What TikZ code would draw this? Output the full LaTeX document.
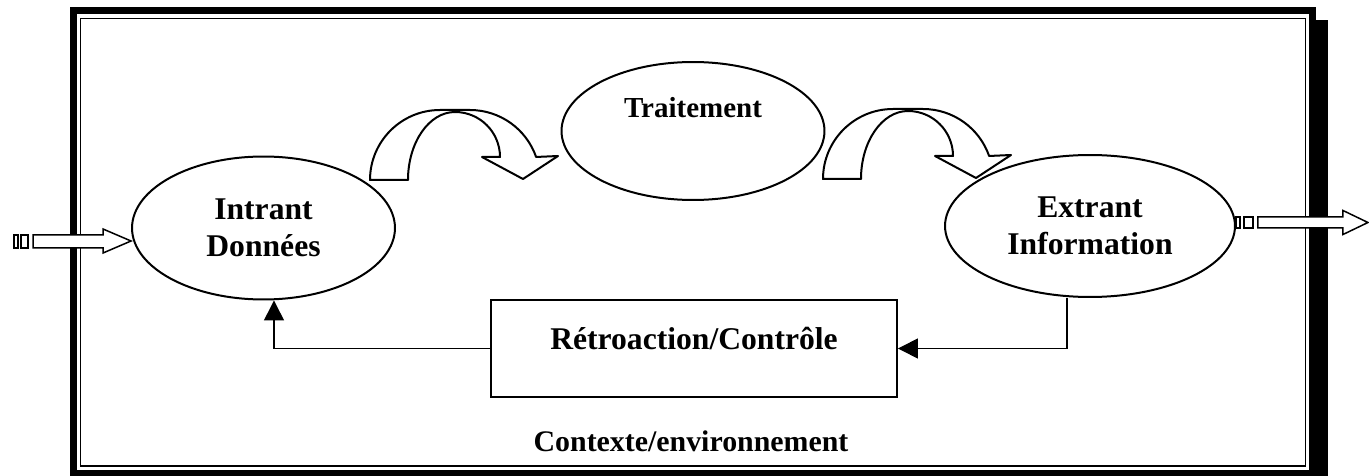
\documentclass[tikz,border=0pt]{standalone}
\usepackage{fontspec}
\setmainfont{Liberation Serif}
\usepackage{tikz}
\usetikzlibrary{arrows.meta, positioning, calc, shapes.geometric}
\tikzset{
  sysellipse/.style={
    ellipse, draw=black, line width=0.04cm, fill=white,
    inner sep=0pt, align=center,
    font=\fontsize{18}{21}\selectfont\bfseries
  },
  ctrlbox/.style={
    rectangle, draw=black, line width=0.04cm, fill=white,
    minimum width=8.12cm, minimum height=1.94cm,
    inner sep=0pt, align=center,
    font=\fontsize{18}{21}\selectfont\bfseries
  },
  fbarrow/.style={
    -{Triangle[length=0.4cm,width=0.4cm]}, line width=0.03cm
  },
  bendarrow/.style={
    draw=black, fill=white, line width=0.04cm, line join=round
  },
  flowarrow/.style={
    draw=black, fill=white, line width=0.03cm
  }
}

\begin{document}
\begin{tikzpicture}[x=0.02cm, y=-0.02cm,
  ctxlabel/.style={font=\fontsize{17}{20}\selectfont\bfseries}
]
  \useasboundingbox (0,0) rectangle (1369,476);

  % Frame with its shadow
  \fill[black] (82,20) rectangle (1328,476);
  \draw[line width=0.14cm, fill=white] (73,11) rectangle (1312,473);
  \draw[line width=0.03cm] (80.5,18.5) rectangle (1305.5,466);

  % Ellipses (input, processing, output)
  \node[sysellipse, minimum width=5.26cm, minimum height=2.86cm]
    (intrant) at (263.5,228) {Intrant\\Données};
  \node[sysellipse, minimum width=5.26cm, minimum height=2.76cm,
        font=\fontsize{16.5}{20}\selectfont\bfseries,
        text height=12pt, text depth=26.8pt]
    (traitement) at (693,131) {Traitement};
  \node[sysellipse, minimum width=5.8cm, minimum height=2.84cm]
    (extrant) at (1090,226) {Extrant\\Information};

  % Feedback box
  \node[ctrlbox, text height=12.5pt, text depth=10.8pt]
    (retro) at (694,348.5) {Rétroaction/Contrôle};

  % Context label
  \node[ctxlabel] (contexte) at (691,441) {Contexte/environnement};

  % Feedback loop
  \draw[fbarrow] ([xshift=-0.46cm]extrant.south) |- (retro.east);
  \draw[fbarrow] (retro.west) -| ([xshift=0.21cm]intrant.south);

  % Curved arrows between the ellipses
  \draw[bendarrow, shift={(455,180)}]
    (-85,0) arc[start angle=180, end angle=270, radius=70]
    -- (15,-70) arc[start angle=270, end angle=340.8, radius=70]
    -- (103,-24) -- (68,-1) -- (27,-23) -- (45,-23)
    arc[start angle=0, end angle=-90, radius=45]
    arc[start angle=270, end angle=180, x radius=47, y radius=68]
    -- cycle;
  \draw[bendarrow, shift={(908,179)}]
    (-85,0) arc[start angle=180, end angle=270, radius=70]
    -- (15,-70) arc[start angle=270, end angle=340.8, radius=70]
    -- (103,-24) -- (68,-1) -- (27,-23) -- (45,-23)
    arc[start angle=0, end angle=-90, radius=45]
    arc[start angle=270, end angle=180, x radius=47, y radius=68]
    -- cycle;

  % Striped block arrows in and out
  \coordinate (inTip) at ([yshift=-0.26cm]intrant.west);
  \draw[flowarrow] (inTip) -- ++(-28,-12) -- ++(0,6) -- ++(-70,0)
    -- ++(0,13) -- ++(70,0) -- ++(0,5) -- cycle;
  \draw[flowarrow] (inTip) ++(-110,-6) rectangle ++(7,13);
  \draw[flowarrow] (inTip) ++(-117,-6) rectangle ++(4,13);

  \coordinate (outTail) at ([yshift=0.07cm]extrant.east);
  \draw[flowarrow] (outTail) ++(0,-5.5) rectangle ++(4,11);
  \draw[flowarrow] (outTail) ++(8,-5.5) rectangle ++(9,11);
  \draw[flowarrow] (outTail) ++(22,-5.5) -- ++(85,0) -- ++(0,-6.5)
    -- ++(25,12) -- ++(-25,12) -- ++(0,-6.5) -- ++(-85,0) -- cycle;

\end{tikzpicture}
\end{document}
